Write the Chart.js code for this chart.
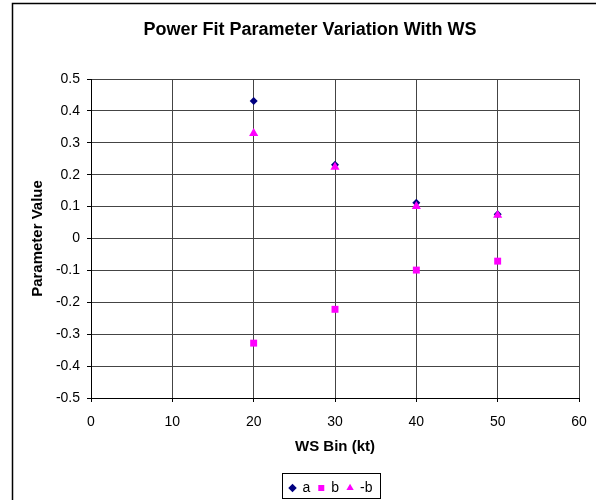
<!DOCTYPE html>
<html lang="en">
  <head>
    <meta charset="UTF-8" />
    <title>Power Fit Parameter Variation With WS</title>
    <script src="https://cdn.jsdelivr.net/npm/chart.js@4.4.1/dist/chart.umd.min.js"></script>
  </head>
  <style>
    html, body {
      margin: 0;
      padding: 0;
      background: white;
    }
    #wrap {
      width: 596px;
      height: 500px;
    }
  </style>
  <body>
    <div id="wrap">
      <canvas id="fitChart" width="596" height="500"></canvas>
    </div>
    <script>
      // values
      const wsBins = [20, 30, 40, 50];
      const aValues = [0.431, 0.231, 0.112, 0.076];
      const bValues = [-0.328, -0.222, -0.099, -0.071];
      const negBValues = [0.33, 0.224, 0.101, 0.073];

      const xMin = 0, xMax = 60, xStep = 10;
      const yMin = -0.5, yMax = 0.5, yStep = 0.1;

      const toPoints = (xs, ys) => xs.map((x, i) => ({ x: x, y: ys[i] }));

      Chart.defaults.font.family = "'Liberation Sans', Arial, sans-serif";
      Chart.defaults.color = "#000";

      // frame of the whole chart + box round the legend
      const framePlugin = {
        id: "frame",
        afterLayout(chart) {
          const area = chart.chartArea;
          chart.titleBlock.left = area.left - 50;
          chart.titleBlock.right = area.right;
          chart.legend.left = area.left - 8;
          chart.legend.right = area.right;
        },
        afterDraw(chart) {
          const ctx = chart.ctx;
          ctx.save();
          ctx.strokeStyle = "#000";
          ctx.lineWidth = 1.5;
          ctx.beginPath();
          ctx.moveTo(12.5, chart.height);
          ctx.lineTo(12.5, 3.5);
          ctx.lineTo(chart.width, 3.5);
          ctx.stroke();

          const boxes = chart.legend.legendHitBoxes;
          if (boxes && boxes.length) {
            const l = Math.min(...boxes.map((b) => b.left)) - 7;
            const r = Math.max(...boxes.map((b) => b.left + b.width)) + 8;
            const t = chart.legend.top;
            const bt = chart.legend.bottom - 2;
            ctx.lineWidth = 1;
            ctx.strokeRect(Math.round(l) + 0.5, t + 0.5, Math.round(r - l), bt - t);
          }
          ctx.restore();
        },
      };

      const fitChart = new Chart(document.getElementById("fitChart"), {
        type: "scatter",
        data: {
          datasets: [
            {
              label: "a",
              data: toPoints(wsBins, aValues),
              pointStyle: "rectRot",
              pointRadius: 4,
              pointHoverRadius: 4,
              backgroundColor: "#000080",
              borderColor: "#000080",
              borderWidth: 0,
              order: 3,
            },
            {
              label: "b",
              data: toPoints(wsBins, bValues),
              pointStyle: "rect",
              pointRadius: 4.9,
              pointHoverRadius: 4.9,
              backgroundColor: "#FF00FF",
              borderColor: "#FF00FF",
              borderWidth: 0,
              order: 2,
            },
            {
              label: "-b",
              data: toPoints(wsBins, negBValues),
              pointStyle: "triangle",
              pointRadius: 5.3,
              pointHoverRadius: 5.3,
              backgroundColor: "#FF00FF",
              borderColor: "#FF00FF",
              borderWidth: 0,
              order: 1,
            },
          ],
        },
        options: {
          responsive: false,
          animation: false,
          devicePixelRatio: 1,
          layout: {
            padding: { left: 20, right: 17, top: 0, bottom: 0 },
          },
          plugins: {
            title: {
              display: true,
              text: "Power Fit Parameter Variation With WS",
              font: { size: 18, weight: "bold" },
              color: "#000",
              padding: { top: 19, bottom: 38.4 },
            },
            legend: {
              position: "bottom",
              maxHeight: 27,
              labels: {
                usePointStyle: true,
                boxWidth: 6,
                boxHeight: 6,
                padding: 8,
                font: { size: 14 },
                color: "#000",
                sort: (a, b) => a.datasetIndex - b.datasetIndex,
              },
            },
            tooltip: { enabled: false },
          },
          scales: {
            x: {
              type: "linear",
              min: xMin,
              max: xMax,
              afterFit(scale) {
                scale.height = scale.chart.height - scale.chart.legend.height - 398;
                scale.paddingLeft = 0;
                scale.paddingRight = 0;
              },
              ticks: {
                stepSize: xStep,
                font: { size: 14 },
                color: "#000",
                padding: 12,
                maxRotation: 0,
              },
              grid: {
                color: "#444",
                tickColor: "#000",
                tickLength: 4,
              },
              border: { color: "#000", width: 1 },
              title: {
                display: true,
                text: "WS Bin (kt)",
                font: { size: 15, weight: "bold" },
                color: "#000",
                padding: { top: 0, bottom: 17 },
              },
            },
            y: {
              type: "linear",
              min: yMin,
              max: yMax,
              afterFit(scale) {
                scale.width = 91 - 20;
              },
              ticks: {
                stepSize: yStep,
                font: { size: 14 },
                color: "#000",
                padding: 7,
                callback: (v) => String(Math.round(v * 10) / 10),
              },
              grid: {
                color: "#444",
                tickColor: "#000",
                tickLength: 4,
              },
              border: { color: "#000", width: 1 },
              title: {
                display: true,
                text: "Parameter Value",
                font: { size: 15, weight: "bold" },
                color: "#000",
                padding: { top: 9, bottom: 0 },
              },
            },
          },
        },
        plugins: [framePlugin],
      });
    </script>
  </body>
</html>
